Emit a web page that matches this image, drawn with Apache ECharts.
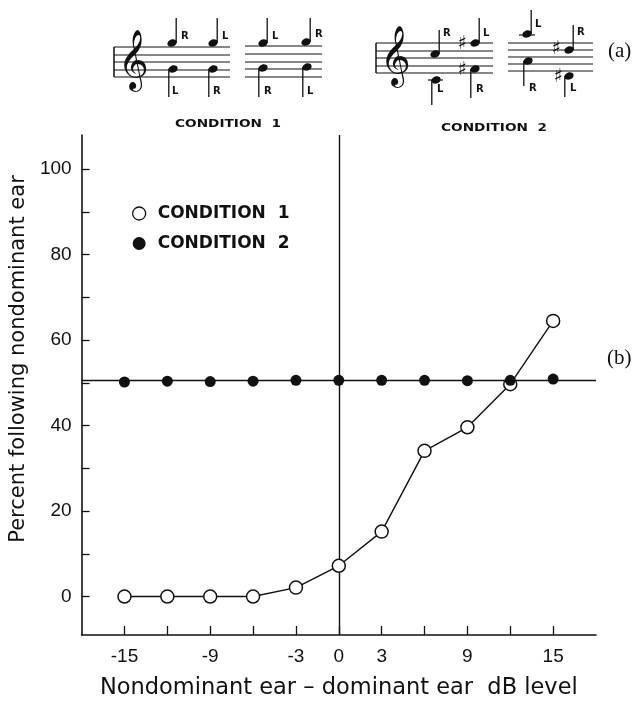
<!DOCTYPE html>
<html>
<head>
<meta charset="utf-8">
<script src="https://cdn.jsdelivr.net/npm/echarts@6/dist/echarts.min.js"></script>
<style>
html,body{margin:0;padding:0;background:#fff;}
#chart{width:634px;height:705px;}
</style>
</head>
<body>
<div id="chart"></div>
<script>
// ---- data ----
var dbLevels = [-15, -12, -9, -6, -3, 0, 3, 6, 9, 12, 15];
var condition1 = [0, 0, 0, 0, 2.1, 7.2, 15.2, 34.1, 39.6, 49.7, 64.5];
var condition2 = [50.2, 50.4, 50.3, 50.4, 50.6, 50.6, 50.6, 50.6, 50.5, 50.6, 50.9];
var chanceLevel = 50.5;
var xTickValues = [-15, -12, -9, -6, -3, 0, 3, 6, 9, 12, 15];
var xLabelValues = [-15, -9, -3, 0, 3, 9, 15];
var yTickValues = [0, 10, 20, 30, 40, 50, 60, 70, 80, 90, 100];
var yLabelValues = [0, 20, 40, 60, 80, 100];
var seriesNames = ['CONDITION  1', 'CONDITION  2'];

function pairs(xs, ys) { return xs.map(function (x, i) { return [x, ys[i]]; }); }

// ---- music notation (decoration) ----
var ink = '#111';
var els = [];
function staff(x1, x2, ys, bar) {
  ys.forEach(function (y) {
    els.push({type: 'line', shape: {x1: x1, y1: y, x2: x2, y2: y}, style: {stroke: ink, lineWidth: 1.2}, silent: true});
  });
  if (bar) els.push({type: 'line', shape: {x1: x1, y1: ys[0], x2: x1, y2: ys[ys.length - 1]}, style: {stroke: ink, lineWidth: 1.5}, silent: true});
}
function clef(x, y) {
  els.push({type: 'text', x: x, y: y, style: {text: '\uD834\uDD1E', fontSize: 52, fontFamily: 'DejaVu Sans', fill: ink, align: 'center', verticalAlign: 'middle'}, silent: true});
}
function note(cx, cy, up, stemEnd, lab, lx, ly) {
  els.push({type: 'ellipse', x: cx, y: cy, rotation: 0.4, shape: {cx: 0, cy: 0, rx: 4.8, ry: 3.6}, style: {fill: ink}, silent: true});
  var sx = up ? cx + 4.2 : cx - 4.2;
  els.push({type: 'line', shape: {x1: sx, y1: cy, x2: sx, y2: stemEnd}, style: {stroke: ink, lineWidth: 1.3}, silent: true});
  els.push({type: 'text', x: lx, y: ly, style: {text: lab, fontSize: 10, fontWeight: 'bold', fontFamily: 'DejaVu Sans', fill: ink, align: 'left', verticalAlign: 'middle'}, silent: true});
}
function sharp(x, y) {
  els.push({type: 'text', x: x, y: y, style: {text: '\u266F', fontSize: 19, fontWeight: 'bold', fontFamily: 'DejaVu Sans', fill: ink, align: 'center', verticalAlign: 'middle'}, silent: true});
}
function ledger(x1, x2, y) {
  els.push({type: 'line', shape: {x1: x1, y1: y, x2: x2, y2: y}, style: {stroke: ink, lineWidth: 1.2}, silent: true});
}
function caption(x, y, t) {
  els.push({type: 'text', x: x, y: y, scaleX: 1.3, style: {text: t, fontSize: 10.5, fontWeight: 'bold', fontFamily: 'DejaVu Sans', fill: ink, align: 'center', verticalAlign: 'middle'}, silent: true});
}
// condition 1 staves
staff(114, 230, [47, 55, 62, 70, 77], true);
clef(133, 63);
note(172, 43, true, 18, 'R', 181, 36);
note(173, 69, false, 97, 'L', 172, 91);
note(213, 43, true, 18, 'L', 222, 36);
note(213, 69, false, 97, 'R', 213, 91);
staff(245, 322, [46, 54, 62, 69, 77], false);
note(263, 43, true, 18, 'L', 272, 36);
note(263, 68, false, 97, 'R', 264, 91);
note(306, 42, true, 18, 'R', 315, 34);
note(307, 67, false, 97, 'L', 307, 91);
// condition 2 staves
staff(376, 493, [43, 51, 58, 66, 73], true);
clef(395, 59);
note(435, 54, true, 30, 'R', 443, 33);
ledger(428, 443, 80);
note(436, 80, false, 105, 'L', 437, 89);
sharp(462, 44);
note(475, 43, true, 18, 'L', 483, 33);
sharp(462, 70);
note(475, 69, false, 98, 'R', 476, 89);
staff(508, 593, [43, 50, 57, 64, 71], false);
ledger(519, 535, 35);
note(527, 34, true, 10, 'L', 535, 24);
note(528, 61, false, 86, 'R', 529, 88);
sharp(556, 49);
note(569, 50, true, 25, 'R', 577, 32);
sharp(558, 77);
note(569, 76, false, 97, 'L', 570, 88);
// captions
caption(228, 124, 'CONDITION  1');
caption(494, 128, 'CONDITION  2');
els.push({type: 'text', x: 608, y: 51, style: {text: '(a)', fontSize: 21, fontFamily: 'Liberation Serif', fill: ink, align: 'left', verticalAlign: 'middle'}, silent: true});
els.push({type: 'text', x: 607, y: 358, style: {text: '(b)', fontSize: 21, fontFamily: 'Liberation Serif', fill: ink, align: 'left', verticalAlign: 'middle'}, silent: true});

var chart = echarts.init(document.getElementById('chart'));
var axisFont = {fontSize: 19, color: ink, fontFamily: 'Liberation Sans'};
chart.setOption({
  animation: false,
  backgroundColor: '#fff',
  grid: {left: 78, right: 38, top: 135, bottom: 62, containLabel: false},
  legend: {
    orient: 'vertical', left: 127, top: 200, itemGap: 13,
    itemWidth: 13, itemHeight: 13,
    textStyle: {fontSize: 17, fontWeight: 'bold', fontFamily: 'DejaVu Sans', color: ink, padding: [0, 0, 0, 7]},
    data: [
      {name: seriesNames[0], icon: 'circle', itemStyle: {color: '#fff', borderColor: ink, borderWidth: 1.3}},
      {name: seriesNames[1], icon: 'circle', itemStyle: {color: ink}}
    ]
  },
  xAxis: {
    type: 'value', min: -18, max: 18,
    name: 'Nondominant ear \u2013 dominant ear  dB level',
    nameLocation: 'middle', nameGap: 42,
    nameTextStyle: {fontSize: 22.5, color: ink, fontFamily: 'DejaVu Sans'},
    axisLine: {show: true, onZero: false, lineStyle: {color: ink, width: 1.6}},
    axisTick: {show: true, inside: true, length: 9, lineStyle: {color: ink, width: 1.3}, customValues: xTickValues},
    axisLabel: Object.assign({margin: 12, customValues: xLabelValues}, axisFont),
    splitLine: {show: false}
  },
  yAxis: {
    type: 'value', min: -9, max: 108,
    name: 'Percent following nondominant ear',
    nameLocation: 'middle', nameGap: 48,
    nameTextStyle: {fontSize: 21, color: ink, fontFamily: 'DejaVu Sans', padding: [0, 0, 0, 52]},
    axisLine: {show: true, onZero: false, lineStyle: {color: ink, width: 1.6}},
    axisTick: {show: true, inside: true, length: 8, lineStyle: {color: ink, width: 1.3}, customValues: yTickValues},
    axisLabel: Object.assign({margin: 10, customValues: yLabelValues}, axisFont),
    splitLine: {show: false}
  },
  series: [
    {
      name: seriesNames[0], type: 'line', data: pairs(dbLevels, condition1),
      symbol: 'circle', symbolSize: 13, z: 3,
      lineStyle: {color: ink, width: 1.4},
      itemStyle: {color: '#fff', borderColor: ink, borderWidth: 1.5}
    },
    {
      name: seriesNames[1], type: 'line', data: pairs(dbLevels, condition2),
      symbol: 'circle', symbolSize: 11, z: 4,
      lineStyle: {width: 0, opacity: 0},
      itemStyle: {color: ink},
      markLine: {
        silent: true, symbol: 'none', label: {show: false}, z: 2,
        lineStyle: {color: ink, width: 1.4, type: 'solid'},
        data: [{yAxis: chanceLevel}, {xAxis: 0}]
      }
    }
  ],
  graphic: els
});
</script>
</body>
</html>
